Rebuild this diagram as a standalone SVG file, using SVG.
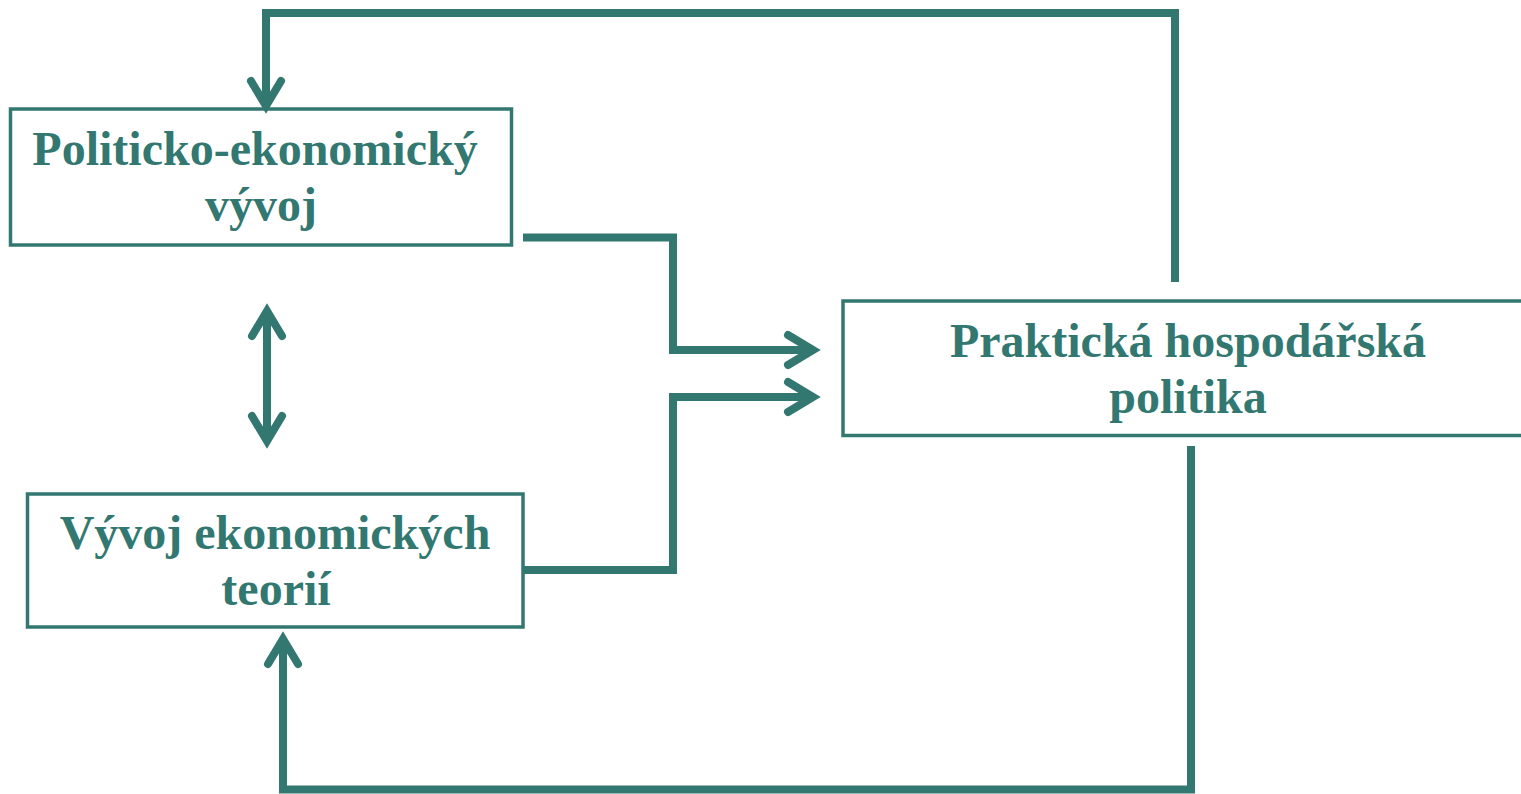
<svg xmlns="http://www.w3.org/2000/svg" width="1521" height="794" viewBox="0 0 1521 794">
<style>
.box{fill:#fff;stroke:#327870;stroke-width:3.5}
.lbl{font-family:"Liberation Serif","Times New Roman",serif;font-weight:bold;font-size:48px;fill:#327870;text-anchor:middle}
.ln{fill:none;stroke:#327870;stroke-width:8;stroke-linejoin:miter;stroke-linecap:butt}
.hd{fill:none;stroke:#327870;stroke-width:8;stroke-linejoin:miter;stroke-miterlimit:10;stroke-linecap:round}
</style>
<rect width="1521" height="794" fill="#fff"/>
<g id="node-politicko">
<rect class="box" x="10.5" y="109" width="501" height="136"/>
<text class="lbl" x="255" y="165">Politicko-ekonomický</text>
<text class="lbl" x="261" y="221">vývoj</text>
</g>
<g id="node-teorie">
<rect class="box" x="27.5" y="494" width="495.5" height="133"/>
<text class="lbl" x="275" y="549">Vývoj ekonomických</text>
<text class="lbl" x="276" y="605">teorií</text>
</g>
<g id="node-politika">
<rect class="box" x="843" y="301" width="700" height="134.5"/>
<text class="lbl" x="1188" y="357">Praktická hospodářská</text>
<text class="lbl" x="1188" y="413">politika</text>
</g>
<g id="connectors">
<path class="ln" d="M1175 282 V13 H266 V106"/>
<path class="hd" d="M251 81 L266 106 L281 81"/>
<path class="ln" d="M523 237.5 H673 V350 H813"/>
<path class="hd" d="M788 335 L813 350 L788 365"/>
<path class="ln" d="M523 570 H673 V397 H813"/>
<path class="hd" d="M788 382 L813 397 L788 412"/>
<path class="ln" d="M267 311 V441"/>
<path class="hd" d="M252 336 L267 311 L282 336"/>
<path class="hd" d="M252 416 L267 441 L282 416"/>
<path class="ln" d="M1191 446 V789.5 H283 V639"/>
<path class="hd" d="M268 664 L283 639 L298 664"/>
</g>
</svg>
